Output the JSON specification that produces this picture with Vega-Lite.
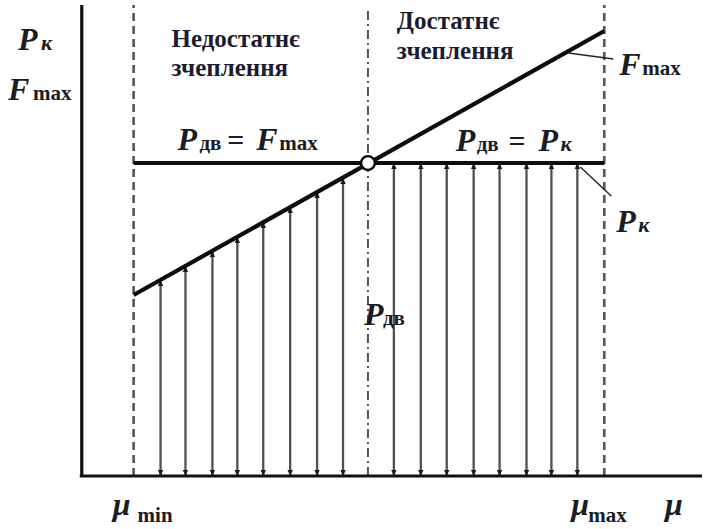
{
  "$schema": "https://vega.github.io/schema/vega-lite/v6.json",
  "width": 704,
  "height": 529,
  "autosize": {"type": "fit", "contains": "padding"},
  "padding": 0,
  "background": "white",
  "config": {"view": {"stroke": null}, "text": {"font": "Times New Roman"}},
  "datasets": {
    "axes": [
      {"x": 0, "y": 471, "x2": 0, "y2": -1},
      {"x": -2, "y": 0, "x2": 622, "y2": 0}
    ],
    "bounds": [
      {"mu": 52, "y": 0, "y2": 471, "kind": "dash"},
      {"mu": 524, "y": 0, "y2": 471, "kind": "dash"},
      {"mu": 287, "y": 0, "y2": 469, "kind": "dashdot"}
    ],
    "arrows": [
      {"mu": 79, "base": 0, "top": 196},
      {"mu": 104, "base": 0, "top": 210},
      {"mu": 131, "base": 0, "top": 225},
      {"mu": 156, "base": 0, "top": 239},
      {"mu": 182, "base": 0, "top": 254},
      {"mu": 209, "base": 0, "top": 269},
      {"mu": 236, "base": 0, "top": 284},
      {"mu": 262, "base": 0, "top": 298},
      {"mu": 313, "base": 0, "top": 313},
      {"mu": 340, "base": 0, "top": 313},
      {"mu": 366, "base": 0, "top": 313},
      {"mu": 393, "base": 0, "top": 313},
      {"mu": 419, "base": 0, "top": 313},
      {"mu": 446, "base": 0, "top": 313},
      {"mu": 471, "base": 0, "top": 313},
      {"mu": 497, "base": 0, "top": 313}
    ],
    "curves": [
      {"name": "Fmax", "x": 52, "y": 181, "x2": 524, "y2": 445},
      {"name": "Pk", "x": 52, "y": 313, "x2": 524, "y2": 313}
    ],
    "leaders": [
      {"x": 488, "y": 423, "x2": 533, "y2": 417},
      {"x": 500, "y": 309, "x2": 531, "y2": 280}
    ],
    "node": [{"mu": 287, "p": 313}],
    "headings": [
      {"x": 90, "y": 429, "t": "Недостатнє"},
      {"x": 90, "y": 400, "t": "зчеплення"},
      {"x": 316, "y": 447, "t": "Достатнє"},
      {"x": 316, "y": 417, "t": "зчеплення"}
    ],
    "symbols": [
      {"x": -64, "y": 426, "t": "P", "kind": "it"},
      {"x": -41, "y": 426, "t": "к", "kind": "subit"},
      {"x": -74, "y": 376, "t": "F", "kind": "it"},
      {"x": -49, "y": 376, "t": "max", "kind": "sub"},
      {"x": 96, "y": 326, "t": "P", "kind": "it"},
      {"x": 118, "y": 326, "t": "дв", "kind": "sub"},
      {"x": 146, "y": 326, "t": "=", "kind": "eq"},
      {"x": 175, "y": 326, "t": "F", "kind": "it"},
      {"x": 198, "y": 326, "t": "max", "kind": "sub"},
      {"x": 375, "y": 325, "t": "P", "kind": "it"},
      {"x": 396, "y": 325, "t": "дв", "kind": "sub"},
      {"x": 428, "y": 325, "t": "=", "kind": "eq"},
      {"x": 458, "y": 325, "t": "P", "kind": "it"},
      {"x": 480, "y": 325, "t": "к", "kind": "subit"},
      {"x": 283, "y": 151, "t": "P", "kind": "it"},
      {"x": 302, "y": 151, "t": "дв", "kind": "sub"},
      {"x": 539, "y": 401, "t": "F", "kind": "it"},
      {"x": 562, "y": 401, "t": "max", "kind": "sub"},
      {"x": 536, "y": 244, "t": "P", "kind": "it"},
      {"x": 558, "y": 244, "t": "к", "kind": "subit"},
      {"x": 31, "y": -39, "t": "μ", "kind": "it"},
      {"x": 56, "y": -46, "t": "min", "kind": "sub"},
      {"x": 491, "y": -39, "t": "μ", "kind": "it"},
      {"x": 508, "y": -46, "t": "max", "kind": "sub"},
      {"x": 585, "y": -39, "t": "μ", "kind": "it"}
    ]
  },
  "layer": [
    {
      "data": {"name": "bounds"},
      "transform": [{"filter": "datum.kind === 'dash'"}],
      "mark": {"type": "rule", "color": "#555555", "strokeWidth": 2.6, "strokeDash": [8, 5]},
      "encoding": {
        "x": {"field": "mu", "type": "quantitative", "scale": {"domain": [-82, 622], "nice": false, "zero": false}, "axis": null},
        "y": {"field": "y", "type": "quantitative", "scale": {"domain": [-53, 476], "nice": false, "zero": false}, "axis": null},
        "y2": {"field": "y2"}
      }
    },
    {
      "data": {"name": "bounds"},
      "transform": [{"filter": "datum.kind === 'dashdot'"}],
      "mark": {"type": "rule", "color": "#555555", "strokeWidth": 2, "strokeDash": [9, 4, 2, 4]},
      "encoding": {
        "x": {"field": "mu", "type": "quantitative"},
        "y": {"field": "y", "type": "quantitative"},
        "y2": {"field": "y2"}
      }
    },
    {
      "data": {"name": "arrows"},
      "mark": {"type": "rule", "color": "#505050", "strokeWidth": 2.3},
      "encoding": {
        "x": {"field": "mu", "type": "quantitative"},
        "y": {"field": "base", "type": "quantitative"},
        "y2": {"field": "top"}
      }
    },
    {
      "data": {"name": "arrows"},
      "mark": {"type": "point", "filled": true, "color": "#1a1a1a", "opacity": 1, "size": 144, "shape": "M0,0L0.45,1L-0.45,1Z"},
      "encoding": {
        "x": {"field": "mu", "type": "quantitative"},
        "y": {"field": "top", "type": "quantitative"}
      }
    },
    {
      "data": {"name": "arrows"},
      "mark": {"type": "point", "filled": true, "color": "#1a1a1a", "opacity": 1, "size": 144, "shape": "M0,0L0.45,-1L-0.45,-1Z"},
      "encoding": {
        "x": {"field": "mu", "type": "quantitative"},
        "y": {"field": "base", "type": "quantitative"}
      }
    },
    {
      "data": {"name": "axes"},
      "mark": {"type": "rule", "color": "#111111", "strokeWidth": 3.2},
      "encoding": {
        "x": {"field": "x", "type": "quantitative"},
        "y": {"field": "y", "type": "quantitative"},
        "x2": {"field": "x2"},
        "y2": {"field": "y2"}
      }
    },
    {
      "data": {"name": "curves"},
      "mark": {"type": "rule", "color": "#0d0d0d", "strokeWidth": 4.2},
      "encoding": {
        "x": {"field": "x", "type": "quantitative"},
        "y": {"field": "y", "type": "quantitative"},
        "x2": {"field": "x2"},
        "y2": {"field": "y2"}
      }
    },
    {
      "data": {"name": "leaders"},
      "mark": {"type": "rule", "color": "#222222", "strokeWidth": 1.4},
      "encoding": {
        "x": {"field": "x", "type": "quantitative"},
        "y": {"field": "y", "type": "quantitative"},
        "x2": {"field": "x2"},
        "y2": {"field": "y2"}
      }
    },
    {
      "data": {"name": "node"},
      "mark": {"type": "point", "shape": "circle", "filled": true, "fill": "white", "stroke": "#0d0d0d", "strokeWidth": 2.4, "opacity": 1, "size": 190},
      "encoding": {
        "x": {"field": "mu", "type": "quantitative"},
        "y": {"field": "p", "type": "quantitative"}
      }
    },
    {
      "data": {"name": "headings"},
      "mark": {"type": "text", "font": "Times New Roman", "fontWeight": "bold", "fontSize": 25, "color": "#1c1c30", "align": "left", "baseline": "alphabetic"},
      "encoding": {
        "x": {"field": "x", "type": "quantitative"},
        "y": {"field": "y", "type": "quantitative"},
        "text": {"field": "t"}
      }
    },
    {
      "data": {"name": "symbols"},
      "transform": [{"filter": "datum.kind === 'it'"}],
      "mark": {"type": "text", "font": "Times New Roman", "fontWeight": "bold", "fontStyle": "italic", "fontSize": 32, "color": "#1c1c24", "align": "left", "baseline": "alphabetic"},
      "encoding": {
        "x": {"field": "x", "type": "quantitative"},
        "y": {"field": "y", "type": "quantitative"},
        "text": {"field": "t"}
      }
    },
    {
      "data": {"name": "symbols"},
      "transform": [{"filter": "datum.kind === 'subit'"}],
      "mark": {"type": "text", "font": "Times New Roman", "fontWeight": "bold", "fontStyle": "italic", "fontSize": 22, "color": "#1c1c24", "align": "left", "baseline": "alphabetic"},
      "encoding": {
        "x": {"field": "x", "type": "quantitative"},
        "y": {"field": "y", "type": "quantitative"},
        "text": {"field": "t"}
      }
    },
    {
      "data": {"name": "symbols"},
      "transform": [{"filter": "datum.kind === 'sub'"}],
      "mark": {"type": "text", "font": "Times New Roman", "fontWeight": "bold", "fontSize": 21, "color": "#1c1c24", "align": "left", "baseline": "alphabetic"},
      "encoding": {
        "x": {"field": "x", "type": "quantitative"},
        "y": {"field": "y", "type": "quantitative"},
        "text": {"field": "t"}
      }
    },
    {
      "data": {"name": "symbols"},
      "transform": [{"filter": "datum.kind === 'eq'"}],
      "mark": {"type": "text", "font": "Times New Roman", "fontWeight": "bold", "fontSize": 30, "color": "#1c1c24", "align": "left", "baseline": "alphabetic"},
      "encoding": {
        "x": {"field": "x", "type": "quantitative"},
        "y": {"field": "y", "type": "quantitative"},
        "text": {"field": "t"}
      }
    }
  ]
}
